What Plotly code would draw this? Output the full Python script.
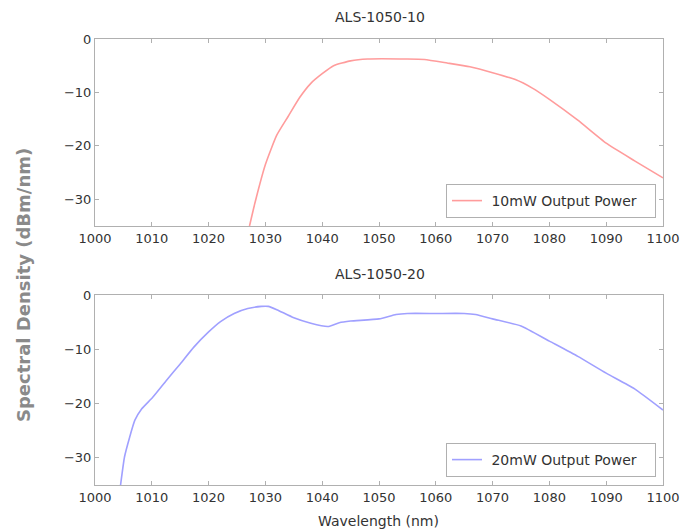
import plotly.graph_objects as go

# Data
wl_10 = [1027.2, 1028.2, 1030, 1032, 1034, 1036, 1038, 1040, 1042, 1045, 1048, 1055, 1058,
         1062, 1066, 1070, 1074, 1077, 1080, 1085, 1090, 1095, 1100]
pw_10 = [-35, -30.5, -23.5, -18, -14.5, -11, -8.3, -6.5, -5.0, -4.1, -3.75, -3.75, -3.85,
         -4.5, -5.2, -6.3, -7.6, -9.2, -11.3, -15.2, -19.5, -22.8, -26.0]

wl_20 = [1004.5, 1005.2, 1006.1, 1007, 1008.2, 1010.2, 1012.6, 1015, 1017.4, 1020, 1022.1,
         1024.5, 1026.9, 1029.3, 1030.5, 1032, 1035, 1038, 1041, 1043, 1045, 1050, 1053, 1055,
         1060, 1065, 1067, 1070, 1075, 1080, 1085, 1090, 1095, 1100]
pw_20 = [-35, -29.8, -26.2, -23.1, -21, -18.8, -15.7, -12.7, -9.6, -6.8, -4.9,
         -3.4, -2.5, -2.1, -2.1, -2.7, -4.2, -5.2, -5.8, -5.1, -4.8, -4.4, -3.6, -3.4,
         -3.4, -3.4, -3.6, -4.4, -5.7, -8.5, -11.3, -14.4, -17.3, -21.2]

titles = ["ALS-1050-10", "ALS-1050-20"]
names = ["10mW Output Power", "20mW Output Power"]
x_ticks = list(range(1000, 1101, 10))
y_ticks = [0, -10, -20, -30]

W, H = 695, 532
OFF = 8  # page offset of the plot div


def px(x):
    return (x - OFF) / W


def py(y):
    return 1 - (y - OFF) / H


xdom = [px(95), px(663)]
ydom_top = [py(226), py(39)]
ydom_bot = [py(485), py(295)]

FONT = "DejaVu Sans"
TXT = "#333333"
GREY = "#b0b0b0"
LPAD = "\u00a0"
RPAD = "\u00a0\u00a0\u00a0"

fig = go.Figure()
fig.add_trace(go.Scatter(x=wl_10, y=pw_10, mode="lines", name=LPAD + names[0] + RPAD,
                         line=dict(color="#ff9c9c", width=1.6, shape="spline", smoothing=0.5),
                         xaxis="x", yaxis="y", legend="legend"))
fig.add_trace(go.Scatter(x=wl_20, y=pw_20, mode="lines", name=LPAD + names[1] + RPAD,
                         line=dict(color="#a0a0ff", width=1.6, shape="spline", smoothing=0.5),
                         xaxis="x2", yaxis="y2", legend="legend2"))

axis_common = dict(showline=True, mirror="ticks", linecolor=GREY, linewidth=1,
                   ticks="inside", ticklen=4, tickcolor=GREY, showgrid=False,
                   zeroline=False, automargin=False,
                   tickfont=dict(family=FONT, size=13, color=TXT))


def ann(text, x, y, **kw):
    d = dict(text=text, x=px(x), y=py(y), xref="paper", yref="paper",
             xanchor="center", yanchor="middle", showarrow=False,
             font=dict(family=FONT, size=14, color=TXT))
    d.update(kw)
    return d


legend_common = dict(xanchor="right", yanchor="bottom", bgcolor="white",
                     bordercolor=GREY, borderwidth=1, itemwidth=30,
                     font=dict(family=FONT, size=14, color=TXT))

fig.update_layout(
    template="none",
    width=W, height=H, margin=dict(l=0, r=0, t=0, b=0, pad=0, autoexpand=False),
    autosize=False,
    paper_bgcolor="white", plot_bgcolor="white",
    xaxis=dict(domain=xdom, range=[1000, 1100], tickvals=x_ticks, anchor="y", **axis_common),
    yaxis=dict(domain=ydom_top, range=[-35, 0], tickvals=y_ticks, anchor="x", **axis_common),
    xaxis2=dict(domain=xdom, range=[1000, 1100], tickvals=x_ticks, anchor="y2", **axis_common),
    yaxis2=dict(domain=ydom_bot, range=[-35, 0], tickvals=y_ticks, anchor="x2", **axis_common),
    legend=dict(x=px(656), y=py(218), **legend_common),
    legend2=dict(x=px(656), y=py(477), **legend_common),
    showlegend=True,
    annotations=[
        ann(titles[0], 380, 17),
        ann(titles[1], 380, 274),
        ann("Wavelength (nm)", 378, 521),
        ann("<b>Spectral Density (dBm/nm)</b>", 23, 285, textangle=-90,
            font=dict(family=FONT, size=18, color="#8a8a8a")),
    ],
)

fig.write_html("out.html")
